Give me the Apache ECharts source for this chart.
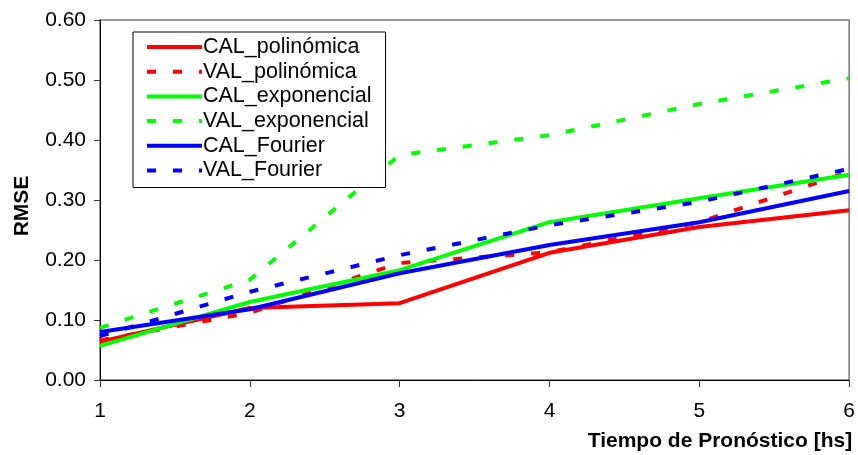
<!DOCTYPE html>
<html><head><meta charset="utf-8">
<script src="https://cdn.jsdelivr.net/npm/echarts@6/dist/echarts.min.js"></script>
<style>html,body{margin:0;padding:0;background:#fff}#c{width:858px;height:455px}</style>
</head><body><div id="c"></div>
<script>
const categories = ['1','2','3','4','5','6'];
const calPolinomica = [0.064, 0.120, 0.128, 0.212, 0.255, 0.283];
const valPolinomica = [0.066, 0.112, 0.195, 0.213, 0.263, 0.347];
const calExponencial = [0.057, 0.130, 0.183, 0.263, 0.303, 0.342];
const valExponencial = [0.087, 0.167, 0.375, 0.408, 0.460, 0.503];
const calFourier = [0.080, 0.118, 0.178, 0.225, 0.263, 0.315];
const valFourier = [0.073, 0.147, 0.208, 0.258, 0.297, 0.352];
const seriesNames = ['CAL_polinómica','VAL_polinómica','CAL_exponencial','VAL_exponencial','CAL_Fourier','VAL_Fourier'];

const font = 'Liberation Sans, Arial, sans-serif';
function mk(name, data, color, dashed){
  return {name, type:'line', data, symbol:'none', smooth:false,
    lineStyle:{color, width:4, type: dashed ? [9,17] : 'solid', cap:'butt'},
    itemStyle:{color}};
}
const chart = echarts.init(document.getElementById('c'), null, {renderer:'canvas'});
chart.setOption({
  animation:false,
  backgroundColor:'#fff',
  grid:{left:100, right:8, top:20, bottom:75, show:true, borderColor:'#777', borderWidth:1.5},
  xAxis:{type:'category', data:categories, boundaryGap:false,
    axisLine:{lineStyle:{color:'#000', width:1}},
    axisTick:{show:true, length:7, lineStyle:{color:'#333'}},
    axisLabel:{color:'#000', fontSize:21, fontFamily:font, margin:21},
    splitLine:{show:false},
    name:'Tiempo de Pronóstico [hs]', nameLocation:'end',
    nameTextStyle:{fontSize:21, fontWeight:'bold', fontFamily:font, color:'#000', align:'right', verticalAlign:'top', padding:[51,-3,0,0]},
    nameGap:0},
  yAxis:{type:'value', min:0, max:0.6, interval:0.1,
    axisLine:{show:true, lineStyle:{color:'#000', width:1}},
    axisTick:{show:true, length:6, lineStyle:{color:'#333'}},
    axisLabel:{color:'#000', fontSize:21, fontFamily:font, margin:14, formatter:v=>v.toFixed(2)},
    splitLine:{show:false},
    name:'RMSE', nameLocation:'middle', nameGap:67, nameRotate:90,
    nameTextStyle:{fontSize:21, fontWeight:'bold', fontFamily:font, color:'#000', padding:[0,12,0,0]}},
  legend:{orient:'vertical', left:133, top:32, data:seriesNames,
    itemWidth:55, itemHeight:14, itemGap:2.7, padding:[4,14,6,12],
    backgroundColor:'#fff', borderColor:'#000', borderWidth:1,
    itemStyle:{opacity:0},
    lineStyle:{width:4},
    textStyle:{fontSize:21.5, lineHeight:22, fontFamily:font, color:'#000', padding:[0,0,0,-4]}},
  series:[
    mk(seriesNames[0], calPolinomica, '#ff0000', false),
    mk(seriesNames[1], valPolinomica, '#ff0000', true),
    mk(seriesNames[2], calExponencial, '#00ff00', false),
    mk(seriesNames[3], valExponencial, '#00ff00', true),
    mk(seriesNames[4], calFourier, '#0000ff', false),
    mk(seriesNames[5], valFourier, '#0000ff', true)
  ]
});
</script></body></html>
